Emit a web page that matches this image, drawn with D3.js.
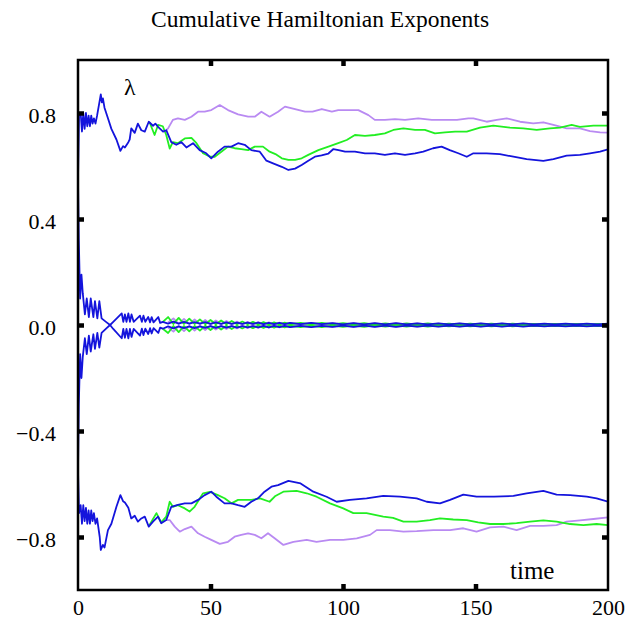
<!DOCTYPE html>
<html>
<head>
<meta charset="utf-8">
<script src="https://cdn.jsdelivr.net/npm/d3@7"></script>
<style>
  body { margin: 0; background: #fff; }
  text { font-family: "Liberation Serif", "Times New Roman", serif; }
</style>
</head>
<body>
<script>
// x ticks / y ticks
var xTicks = [0, 50, 100, 150, 200];
var xInner = [50, 100, 150];
var yTicks = [-0.8, -0.4, 0, 0.4, 0.8];

// upper exponents [time, lambda]
var blueTop = [[0,0.55],[0.4,0.80],[1.0,0.80],[1.5,0.73],[2.0,0.80],[2.5,0.74],[3.0,0.80],[3.5,0.75],[4.0,0.79],[4.5,0.75],[5.0,0.79],[5.5,0.76],[6.0,0.78],[6.6,0.76],[7.2,0.79],[8.6,0.87],[9.0,0.84],[9.4,0.855],[10.0,0.82],[11.3,0.78],[12.6,0.74],[14.5,0.70],[16.0,0.657],[17.0,0.675],[17.7,0.67],[19.0,0.69],[19.5,0.70],[20.1,0.742],[21.4,0.725],[22.6,0.76],[23.9,0.735],[25.2,0.73],[26.7,0.767],[28.3,0.752],[29.2,0.76],[30.2,0.748],[32.1,0.73],[33.3,0.735],[35.2,0.69],[37.1,0.68],[39.0,0.69],[40.9,0.67],[43.4,0.686],[45.9,0.66],[48.4,0.648],[50.3,0.629],[52.8,0.654],[55.3,0.673],[57.9,0.673],[60.4,0.686],[62.9,0.68],[65.4,0.66],[68.6,0.654],[71.1,0.62],[73.6,0.61],[76.9,0.597],[79.4,0.585],[81.9,0.59],[84.4,0.604],[86.9,0.62],[89.4,0.635],[91.9,0.64],[94.5,0.647],[96.4,0.664],[98.3,0.66],[100.8,0.654],[104.5,0.654],[108.3,0.648],[112,0.648],[115.8,0.642],[119.6,0.648],[123.4,0.642],[127.2,0.648],[130.3,0.654],[134,0.667],[137.2,0.673],[140.3,0.66],[143.5,0.648],[146.7,0.635],[149.2,0.648],[154.2,0.648],[159.2,0.645],[164.3,0.635],[169.3,0.626],[175.6,0.619],[179.4,0.626],[184.4,0.639],[189.4,0.642],[193.2,0.648],[197,0.654],[200,0.663]];
var greenTop = [[27.0,0.765],[28.9,0.717],[30.2,0.755],[32.0,0.75],[33.3,0.717],[34.6,0.666],[35.8,0.69],[37.7,0.686],[40.3,0.704],[42.8,0.706],[44.7,0.686],[47.2,0.648],[49.8,0.635],[51.6,0.635],[54.1,0.654],[56.6,0.673],[59.1,0.667],[61.6,0.664],[64.2,0.66],[66.7,0.673],[69.8,0.673],[72.3,0.654],[74.5,0.645],[76.9,0.629],[79.4,0.623],[81.9,0.623],[84.4,0.629],[86.9,0.642],[90.7,0.66],[94.5,0.673],[98.2,0.686],[101.4,0.698],[104.5,0.717],[108.3,0.714],[112,0.717],[115.8,0.723],[119,0.736],[122.8,0.742],[127.2,0.736],[130.9,0.736],[134.7,0.723],[138.5,0.727],[142.3,0.73],[146.7,0.73],[151.7,0.745],[156.7,0.752],[163,0.745],[168,0.742],[173.1,0.736],[178.1,0.742],[181.9,0.745],[186.3,0.755],[189.4,0.748],[194.5,0.752],[200,0.752]];
var purpleTop = [[33.3,0.735],[34,0.742],[35.8,0.774],[37.7,0.78],[40.3,0.774],[42.8,0.786],[45.3,0.805],[47.8,0.805],[50.3,0.811],[53.5,0.83],[56.6,0.811],[60.4,0.795],[64.2,0.786],[66.7,0.786],[69.2,0.805],[72.3,0.786],[75.5,0.805],[78.1,0.824],[81.9,0.815],[85.7,0.805],[88.5,0.805],[92,0.815],[95.8,0.805],[98.2,0.811],[102,0.811],[105.8,0.811],[109.6,0.792],[112,0.774],[115.8,0.774],[119.6,0.777],[123.4,0.774],[128.4,0.78],[133.5,0.774],[137.9,0.774],[143,0.774],[147.3,0.78],[149.2,0.78],[154.2,0.767],[158,0.774],[161.8,0.78],[166.8,0.767],[171.8,0.761],[175.6,0.765],[179.4,0.755],[184.4,0.742],[189.4,0.742],[193.2,0.732],[197,0.727],[200,0.726]];

// lower exponents
var blueBot = [[0,-0.55],[0.4,-0.71],[1.0,-0.68],[1.5,-0.75],[2.0,-0.68],[2.5,-0.74],[3.0,-0.69],[3.5,-0.75],[4.0,-0.70],[4.5,-0.75],[5.0,-0.70],[5.5,-0.74],[6.0,-0.71],[6.6,-0.75],[7.2,-0.73],[8.2,-0.80],[8.6,-0.849],[9.4,-0.83],[10,-0.84],[11.3,-0.774],[12.6,-0.75],[14.5,-0.686],[16,-0.642],[17,-0.665],[17.7,-0.67],[19,-0.69],[20.1,-0.73],[21.4,-0.72],[22.6,-0.742],[23.9,-0.73],[25.2,-0.723],[26.7,-0.761],[28.3,-0.742],[30.2,-0.723],[31.4,-0.748],[33.3,-0.736],[35.2,-0.686],[37.7,-0.679],[40.3,-0.673],[42.8,-0.673],[45.3,-0.66],[47.8,-0.642],[50.3,-0.629],[52.2,-0.648],[55.3,-0.673],[57.9,-0.673],[60.4,-0.68],[62.9,-0.686],[65.4,-0.667],[67.9,-0.654],[70.4,-0.629],[73,-0.61],[75.5,-0.604],[79.4,-0.588],[84,-0.598],[88.8,-0.629],[93.8,-0.648],[97.6,-0.667],[102.6,-0.66],[108.9,-0.654],[115.2,-0.645],[121.5,-0.648],[127.8,-0.654],[131.6,-0.667],[136.6,-0.673],[140.4,-0.66],[145.4,-0.64],[150.4,-0.648],[157,-0.648],[164.3,-0.645],[169.3,-0.635],[175.6,-0.626],[180.6,-0.64],[185.7,-0.642],[192,-0.648],[195.7,-0.654],[200,-0.667]];
var greenBot = [[27,-0.755],[29.6,-0.71],[31.4,-0.745],[33.3,-0.723],[34.6,-0.667],[35.8,-0.686],[37.7,-0.68],[40.3,-0.692],[42.1,-0.704],[44,-0.686],[47.2,-0.635],[49.8,-0.63],[52.8,-0.642],[55.3,-0.654],[57.9,-0.673],[60.4,-0.66],[63,-0.66],[65.4,-0.66],[68.7,-0.654],[72.3,-0.667],[74.5,-0.645],[77.5,-0.629],[82.5,-0.626],[86.3,-0.635],[90,-0.648],[95.1,-0.673],[100.1,-0.692],[103.9,-0.71],[108.9,-0.71],[115.2,-0.723],[118.9,-0.728],[122.8,-0.742],[127.8,-0.742],[132.8,-0.736],[136.6,-0.73],[141.6,-0.734],[146.7,-0.736],[151,-0.745],[155.5,-0.751],[160.5,-0.751],[165.5,-0.748],[170.6,-0.742],[175.6,-0.737],[180.6,-0.742],[185.7,-0.751],[190.7,-0.755],[195.7,-0.751],[200,-0.755]];
var purpleBot = [[33.3,-0.736],[34.6,-0.736],[36.5,-0.761],[38.4,-0.78],[40.3,-0.77],[42.8,-0.761],[45.3,-0.786],[47.8,-0.799],[50.3,-0.811],[53.5,-0.826],[56.6,-0.818],[59.1,-0.799],[61.6,-0.792],[64.2,-0.786],[66.7,-0.792],[69.2,-0.805],[71.7,-0.786],[74.2,-0.805],[77.5,-0.83],[81.3,-0.818],[86.3,-0.811],[90,-0.818],[95.1,-0.811],[100.1,-0.811],[105.2,-0.805],[110.2,-0.792],[112.7,-0.774],[117.7,-0.774],[122.8,-0.78],[127.8,-0.778],[134.1,-0.774],[140.4,-0.774],[145.4,-0.767],[150.4,-0.78],[155.5,-0.764],[160.5,-0.761],[165.5,-0.774],[170.6,-0.758],[175.6,-0.758],[180.6,-0.755],[184.4,-0.742],[189.4,-0.737],[194.5,-0.732],[200,-0.726]];

// near-zero pair, early part (blue only)
var blueMidUpEarly = [[0,0.55],[0.3,0.32],[0.8,0.10],[1.3,0.19],[1.8,0.12],[2.6,0.04],[3.3,0.10],[4.1,0.03],[4.8,0.10],[5.8,0.03],[6.4,0.09],[7.3,0.025],[8.05,0.09],[8.9,0.025],[10.8,0.01],[12.1,0.0],[13.3,0.012],[16.5,0.044],[17.1,0.012],[17.7,0.04],[18.3,0.012],[19.0,0.044],[19.6,0.012],[20.2,0.04],[21,0.012],[23.4,0.035],[24.1,0.012],[24.7,0.035],[25.4,0.012],[26.5,0.03],[27.2,0.01],[27.8,0.03],[28.5,0.01],[30.3,0.03],[31.0,0.008]];
var blueMidLoEarly = [[0,-0.55],[0.3,-0.30],[0.8,-0.11],[1.3,-0.20],[1.8,-0.12],[2.6,-0.05],[3.3,-0.11],[4.1,-0.04],[4.8,-0.10],[5.8,-0.035],[6.4,-0.09],[7.3,-0.03],[8.05,-0.085],[8.9,-0.03],[10.8,-0.012],[12.1,0.0],[13.3,-0.015],[16.5,-0.05],[17.1,-0.015],[17.7,-0.048],[18.3,-0.015],[19.0,-0.05],[19.6,-0.015],[20.2,-0.045],[21,-0.015],[23.4,-0.04],[24.1,-0.014],[24.7,-0.038],[25.4,-0.014],[26.5,-0.034],[27.2,-0.012],[27.8,-0.032],[28.5,-0.012],[30.3,-0.03],[31.0,-0.01]];

// near-zero pairs on a shared time grid
var midT = [32,34,36,38,40,42,44,46,48,50,52,54,56,58,60,62,64,66,68,70,72,74,76,78,80,84,88,92,96,100,104,108,112,116,120,124,128,132,136,140,144,148,152,156,160,164,168,172,176,180,184,188,192,196,200];
var blueMidUp = [0.012,0.005,0.013,0.005,0.012,0.005,0.011,0.005,0.011,0.004,0.010,0.004,0.010,0.004,0.009,0.004,0.009,0.004,0.009,0.003,0.008,0.003,0.008,0.003,0.008,0.003,0.008,0.003,0.007,0.002,0.007,0.002,0.007,0.002,0.007,0.002,0.006,0.002,0.006,0.002,0.006,0.002,0.006,0.002,0.006,0.002,0.006,0.002,0.005,0.002,0.005,0.002,0.005,0.002,0.005];
var blueMidLo = [-0.014,-0.005,-0.013,-0.005,-0.012,-0.005,-0.012,-0.005,-0.011,-0.004,-0.011,-0.004,-0.010,-0.004,-0.010,-0.004,-0.009,-0.004,-0.009,-0.003,-0.009,-0.003,-0.008,-0.003,-0.008,-0.003,-0.008,-0.003,-0.007,-0.002,-0.007,-0.002,-0.007,-0.002,-0.007,-0.002,-0.006,-0.002,-0.006,-0.002,-0.006,-0.002,-0.006,-0.002,-0.006,-0.002,-0.006,-0.002,-0.005,-0.002,-0.005,-0.002,-0.005,-0.002,-0.005];
var greenMidUp = [0.012,0.030,0.004,0.027,0.004,0.024,0.004,0.021,0.003,0.019,0.003,0.017,0.003,0.015,0.003,0.013,0.003,0.012,0.002,0.011,0.002,0.010,0.002,0.009,0.002,0.008,0.002,0.008,0.002,0.007,0.002,0.007,0.001,0.006,0.001,0.006,0.001,0.006,0.001,0.005,0.001,0.005,0.001,0.005,0.001,0.005,0.001,0.004,0.001,0.004,0.001,0.004,0.001,0.004,0.001];
var greenMidLo = [-0.014,-0.030,-0.004,-0.027,-0.004,-0.024,-0.004,-0.021,-0.003,-0.019,-0.003,-0.017,-0.003,-0.015,-0.003,-0.013,-0.003,-0.012,-0.002,-0.011,-0.002,-0.010,-0.002,-0.009,-0.002,-0.008,-0.002,-0.008,-0.002,-0.007,-0.002,-0.007,-0.001,-0.006,-0.001,-0.006,-0.001,-0.006,-0.001,-0.005,-0.001,-0.005,-0.001,-0.005,-0.001,-0.005,-0.001,-0.004,-0.001,-0.004,-0.001,-0.004,-0.001,-0.004,-0.001];
var purpleMidUp = [0.012,0.010,0.025,0.004,0.023,0.004,0.021,0.003,0.019,0.003,0.017,0.003,0.015,0.003,0.013,0.003,0.012,0.002,0.011,0.002,0.010,0.002,0.009,0.002,0.008,0.002,0.008,0.002,0.007,0.002,0.007,0.001,0.006,0.001,0.006,0.001,0.006,0.001,0.005,0.001,0.005,0.001,0.005,0.001,0.005,0.001,0.004,0.001,0.004,0.001,0.004,0.001,0.004,0.001,0.004];
var purpleMidLo = [-0.014,-0.010,-0.025,-0.004,-0.023,-0.004,-0.021,-0.003,-0.019,-0.003,-0.017,-0.003,-0.015,-0.003,-0.013,-0.003,-0.012,-0.002,-0.011,-0.002,-0.010,-0.002,-0.009,-0.002,-0.008,-0.002,-0.008,-0.002,-0.007,-0.002,-0.007,-0.001,-0.006,-0.001,-0.006,-0.001,-0.006,-0.001,-0.005,-0.001,-0.005,-0.001,-0.005,-0.001,-0.005,-0.001,-0.004,-0.001,-0.004,-0.001,-0.004,-0.001,-0.004,-0.001,-0.004];

var colors = { purple: "#b98af2", green: "#22ee22", blue: "#1414dc" };

var width = 641, height = 620;
var plotL = 78, plotR = 608, plotT = 60, plotB = 590;
var serif = "'Liberation Serif', 'Times New Roman', serif";

var svg = d3.select("body").append("svg")
    .attr("width", width)
    .attr("height", height);

var x = d3.scaleLinear().domain([0, 200]).range([plotL, plotR]);
var y = d3.scaleLinear().domain([-1, 1]).range([plotB, plotT]);

svg.append("defs").append("clipPath").attr("id", "clip")
  .append("rect")
    .attr("x", plotL).attr("y", plotT)
    .attr("width", plotR - plotL).attr("height", plotB - plotT);

var line = d3.line()
    .x(function(d) { return x(d[0]); })
    .y(function(d) { return y(d[1]); });

function onGrid(vals) {
  return midT.map(function(t, i) { return [t, vals[i]]; });
}

var series = [
  { c: "purple", d: purpleTop },
  { c: "purple", d: purpleBot },
  { c: "purple", d: onGrid(purpleMidUp).filter(function(p) { return p[0] >= 34; }) },
  { c: "purple", d: onGrid(purpleMidLo).filter(function(p) { return p[0] >= 34; }) },
  { c: "green", d: greenTop },
  { c: "green", d: greenBot },
  { c: "green", d: onGrid(greenMidUp) },
  { c: "green", d: onGrid(greenMidLo) },
  { c: "blue", d: blueTop },
  { c: "blue", d: blueBot },
  { c: "blue", d: blueMidUpEarly.concat(onGrid(blueMidUp)) },
  { c: "blue", d: blueMidLoEarly.concat(onGrid(blueMidLo)) }
];

var plot = svg.append("g").attr("clip-path", "url(#clip)");
plot.selectAll("path")
  .data(series)
  .enter().append("path")
    .attr("d", function(s) { return line(s.d); })
    .attr("fill", "none")
    .attr("stroke", function(s) { return colors[s.c]; })
    .attr("stroke-width", 1.8)
    .attr("stroke-linejoin", "round");

// inward tick marks on all four sides
function tickStyle(g) {
  g.select(".domain").remove();
  g.selectAll(".tick line").attr("stroke", "#000").attr("stroke-width", 4.5);
  g.selectAll(".tick text").remove();
}
svg.append("g").attr("transform", "translate(0," + plotB + ")")
  .call(d3.axisBottom(x).tickValues(xInner).tickSize(-6)).call(tickStyle);
svg.append("g").attr("transform", "translate(0," + plotT + ")")
  .call(d3.axisTop(x).tickValues(xInner).tickSize(-6)).call(tickStyle);
svg.append("g").attr("transform", "translate(" + plotL + ",0)")
  .call(d3.axisLeft(y).tickValues(yTicks).tickSize(-6)).call(tickStyle);
svg.append("g").attr("transform", "translate(" + plotR + ",0)")
  .call(d3.axisRight(y).tickValues(yTicks).tickSize(-6)).call(tickStyle);

// frame
svg.append("rect")
    .attr("x", plotL).attr("y", plotT)
    .attr("width", plotR - plotL).attr("height", plotB - plotT)
    .attr("fill", "none")
    .attr("stroke", "#000")
    .attr("stroke-width", 2.5);

// tick labels
function labelStyle(g) {
  g.attr("font-family", serif).attr("font-size", 22);
  g.select(".domain").remove();
  g.selectAll(".tick line").remove();
  g.selectAll(".tick text")
    .attr("fill", "#000")
    .style("font-family", serif)
    .style("font-size", "22px");
}
svg.append("g").attr("transform", "translate(0," + plotB + ")")
  .call(d3.axisBottom(x).tickValues(xTicks).tickSize(0).tickPadding(9).tickFormat(d3.format("d")))
  .call(labelStyle);
svg.append("g").attr("transform", "translate(" + plotL + ",0)")
  .call(d3.axisLeft(y).tickValues(yTicks).tickSize(0).tickPadding(22).tickFormat(d3.format(".1f")))
  .call(labelStyle)
  .selectAll(".tick text").attr("dy", "0.45em");

// titles
svg.append("text")
    .attr("x", 320).attr("y", 27)
    .attr("text-anchor", "middle")
    .style("font-size", "23.5px")
    .text("Cumulative Hamiltonian Exponents");
svg.append("text")
    .attr("x", 124).attr("y", 95)
    .style("font-size", "24px")
    .text("λ");
svg.append("text")
    .attr("x", 510).attr("y", 579)
    .style("font-size", "25px")
    .text("time");
</script>
</body>
</html>
